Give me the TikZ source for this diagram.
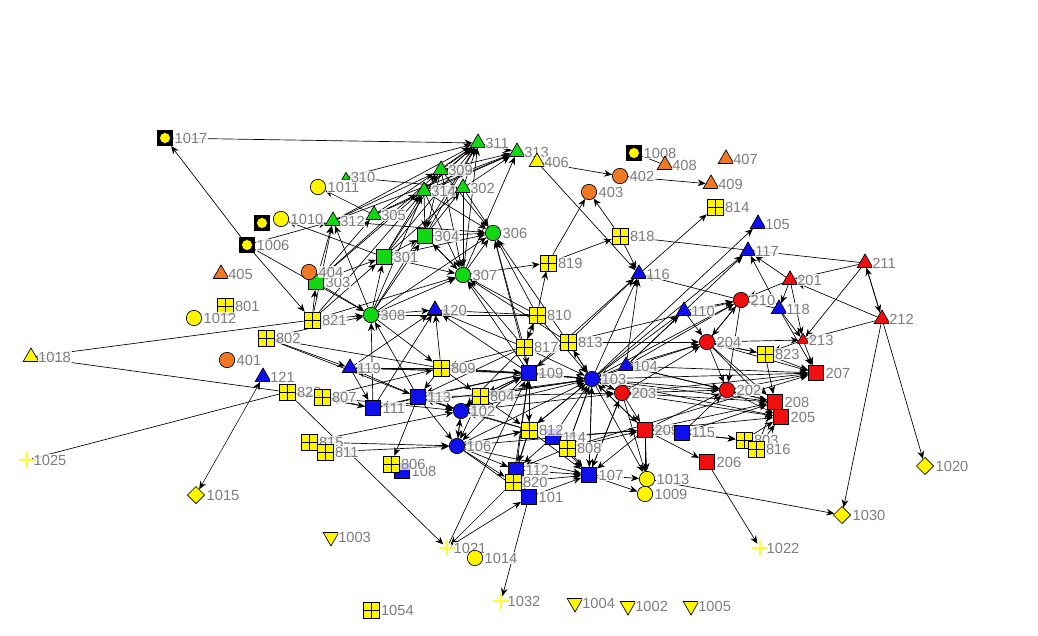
\documentclass[tikz,border=0pt]{standalone}
\usepackage{fontspec}
\setmainfont{Liberation Sans}
\usetikzlibrary{shapes.geometric,arrows.meta}
\definecolor{gnode}{RGB}{20,215,20}
\definecolor{bnode}{RGB}{15,15,235}
\definecolor{rnode}{RGB}{240,15,15}
\definecolor{ynode}{RGB}{255,245,0}
\definecolor{onode}{RGB}{240,120,35}
\definecolor{labgray}{RGB}{125,125,125}
\pgfdeclarelayer{bg}
\pgfsetlayers{bg,main}

\tikzset{every picture/.style={line width=0.55pt}}
\tikzset{
  nd/.style={draw=black,line width=0.5pt,inner sep=0pt},
  tri/.style={nd,regular polygon,regular polygon sides=3,minimum size=13.5pt},
  smtri/.style={tri,minimum size=7pt},
  itri/.style={tri,fill=ynode,shape border rotate=180},
  sq/.style={nd,rectangle,minimum size=11.5pt},
  circ/.style={nd,circle,minimum size=11.5pt},
  grid/.style={nd,rectangle,fill=ynode,minimum size=12pt,
    path picture={\draw[line width=0.5pt] (path picture bounding box.north) -- (path picture bounding box.south)
      (path picture bounding box.west) -- (path picture bounding box.east);}},
  dia/.style={nd,diamond,fill=ynode,minimum size=13pt},
  fcirc/.style={rectangle,fill=black,minimum size=11.5pt,inner sep=0pt,
    path picture={\filldraw[fill=ynode,draw=black,line width=0.4pt] (path picture bounding box.center) circle (4.1pt);}},
  spark/.style={circle,fill=ynode!15,minimum size=7pt,inner sep=0pt},
  spk/.style={draw=ynode!75,line width=0.8pt},
  arr/.style={-{Stealth[length=6pt,width=5pt]},line width=0.5pt},
  ln/.style={line width=0.5pt},
  every label/.style={text=labgray,fill=white,fill opacity=0.8,text opacity=1,inner sep=0.5pt,
    font=\fontsize{11}{12}\selectfont}
}

\begin{document}
\begin{tikzpicture}[x=0.75pt,y=0.75pt,yscale=-1,xscale=1,label distance=0.5pt]
\useasboundingbox (0,0) rectangle (1038,635);

%Shape: yellow nodes, left
\node[fcirc,label=right:1017] (n1017) at (165,138) {};
\node[fcirc] (nfc) at (262,223) {};
\node[fcirc,label=right:1006] (n1006) at (247,245) {};
\node[circ,fill=ynode,label=right:1010] (n1010) at (281,219) {};
\node[circ,fill=ynode,label=right:1011] (n1011) at (318,187) {};
\node[grid,label=right:801] (n801) at (225,306) {};
\node[circ,fill=ynode,label=right:1012] (n1012) at (194,318) {};
\node[tri,fill=ynode,label=right:1018] (n1018) at (31,357) {};
\node[spark,label=right:1025] (n1025) at (27,460) {};
\node[dia,label=right:1015] (n1015) at (196,495) {};
\node[itri,label=right:1003] (n1003) at (331,537) {};
\node[grid,label=right:1054] (n1054) at (371,610) {};

%Shape: orange nodes
\node[tri,fill=onode,label=right:405] (n405) at (221,274) {};
\node[circ,fill=onode,label=right:401] (n401) at (227,360) {};

%Shape: green nodes
\node[smtri,fill=gnode,label=right:310] (n310) at (346,177) {};
\node[tri,fill=gnode,label=right:311] (n311) at (478,143) {};
\node[tri,fill=gnode,label=right:312] (n312) at (333,221) {};
\node[tri,fill=gnode,label=right:313] (n313) at (517,152) {};
\node[tri,fill=ynode,label=right:406] (n406) at (537,162) {};
\node[tri,fill=gnode,label=right:309] (n309) at (441,170) {};
\node[tri,fill=gnode,label=right:314] (n314) at (424,191) {};
\node[tri,fill=gnode,label=right:302] (n302) at (463,188) {};
\node[tri,fill=gnode,label=right:305] (n305) at (374,215) {};
\node[sq,fill=gnode,label=right:301] (n301) at (384,257) {};
\node[sq,fill=gnode,label=right:303] (n303) at (316,282) {};
\node[circ,fill=onode,label=right:404] (n404) at (309,272) {};
\node[sq,fill=gnode,label=right:304] (n304) at (425,236) {};
\node[circ,fill=gnode,label=right:306] (n306) at (493,233) {};
\node[circ,fill=gnode,label=right:307] (n307) at (463,275) {};
\node[circ,fill=gnode,label=right:308] (n308) at (371,315) {};

%Shape: orange and yellow, top
\node[circ,fill=onode,label=right:403] (n403) at (589,192) {};
\node[circ,fill=onode,label=right:402] (n402) at (620,176) {};
\node[fcirc,label=right:1008] (n1008) at (634,153) {};
\node[tri,fill=onode,label=right:408] (n408) at (665,165) {};
\node[tri,fill=onode,label=right:407] (n407) at (726,159) {};
\node[tri,fill=onode,label=right:409] (n409) at (711,184) {};

%Shape: grid nodes
\node[grid,label=right:821] (n821) at (312,320) {};
\node[grid,label=right:802] (n802) at (266,338) {};
\node[grid,label=right:822] (n822) at (287,392) {};
\node[grid,label=right:807] (n807) at (322,397) {};
\node[grid,label=right:815] (n815) at (309,442) {};
\node[grid,label=right:811] (n811) at (325,452) {};
\node[sq,fill=bnode,label=right:108] (n108) at (402,471) {};
\node[grid,label=right:806] (n806) at (391,464) {};
\node[grid,label=right:809] (n809) at (441,368) {};
\node[grid,label=right:819] (n819) at (548,263) {};
\node[grid,label=right:818] (n818) at (620,236) {};
\node[grid,label=right:814] (n814) at (715,207) {};
\node[grid,label=right:810] (n810) at (537,315) {};
\node[grid,label=right:817] (n817) at (524,347) {};
\node[grid,label=right:813] (n813) at (568,342) {};
\node[grid,label=right:804] (n804) at (480,396) {};

%Shape: blue nodes
\node[tri,fill=bnode,label=right:121] (n121) at (263,377) {};
\node[tri,fill=bnode,label=right:119] (n119) at (350,368) {};
\node[tri,fill=bnode,label=right:120] (n120) at (435,310) {};
\node[sq,fill=bnode,label=right:111] (n111) at (373,408) {};
\node[sq,fill=bnode,label=right:113] (n113) at (418,397) {};
\node[circ,fill=bnode,label=right:102] (n102) at (461,411) {};
\node[circ,fill=bnode,label=right:106] (n106) at (457,446) {};
\node[sq,fill=bnode,label=right:109] (n109) at (529,373) {};
\node[circ,fill=bnode,label=right:103] (n103) at (592,379) {};
\node[tri,fill=bnode,label=right:104] (n104) at (626,366) {};
\node[sq,fill=bnode,label=right:114] (n114) at (553,437) {};
\node[grid,label=right:812] (n812) at (529,430) {};
\node[grid,label=right:808] (n808) at (567,448) {};
\node[sq,fill=bnode,label=right:112] (n112) at (516,470) {};
\node[grid,label=right:820] (n820) at (513,482) {};
\node[sq,fill=bnode,label=right:101] (n101) at (529,497) {};
\node[sq,fill=bnode,label=right:107] (n107) at (589,475) {};
\node[tri,fill=bnode,label=right:116] (n116) at (639,274) {};
\node[tri,fill=bnode,label=right:110] (n110) at (684,311) {};
\node[tri,fill=bnode,label=right:117] (n117) at (748,251) {};
\node[tri,fill=bnode,label=right:105] (n105) at (758,224) {};
\node[tri,fill=bnode,label=right:118] (n118) at (779,309) {};

%Shape: red nodes
\node[circ,fill=rnode,label=right:203] (n203) at (622,393) {};
\node[sq,fill=rnode,label=right:209] (n209) at (645,430) {};
\node[sq,fill=bnode,label=right:115] (n115) at (682,433) {};
\node[sq,fill=rnode,label=right:206] (n206) at (707,462) {};
\node[circ,fill=rnode,label=right:204] (n204) at (707,342) {};
\node[circ,fill=rnode,label=right:210] (n210) at (741,300) {};
\node[circ,fill=rnode,label=right:202] (n202) at (727,390) {};
\node[grid,label=right:823] (n823) at (765,354) {};
\node[sq,fill=rnode,label=right:208] (n208) at (775,402) {};
\node[sq,fill=rnode,label=right:205] (n205) at (781,417) {};
\node[sq,fill=rnode,label=right:207] (n207) at (816,373) {};
\node[grid,label=right:803] (n803) at (744,440) {};
\node[grid,label=right:816] (n816) at (756,449) {};
\node[tri,fill=rnode,label=right:201] (n201) at (790,280) {};
\node[tri,fill=rnode,minimum size=10pt,label=right:213] (n213) at (803,340) {};
\node[tri,fill=rnode,label=right:211] (n211) at (865,263) {};
\node[tri,fill=rnode,label=right:212] (n212) at (882,319) {};

%Shape: yellow nodes, bottom and right
\node[circ,fill=ynode,label=right:1013] (n1013) at (647,479) {};
\node[circ,fill=ynode,label=right:1009] (n1009) at (645,494) {};
\node[spark,label=right:1021] (n1021) at (447,548) {};
\node[circ,fill=ynode,label=right:1014] (n1014) at (475,558) {};
\node[spark,label=right:1032] (n1032) at (501,601) {};
\node[itri,label=right:1004] (n1004) at (575,603) {};
\node[itri,label=right:1002] (n1002) at (628,606) {};
\node[itri,label=right:1005] (n1005) at (691,606) {};
\node[spark,label=right:1022] (n1022) at (760,548) {};
\node[dia,label=right:1030] (n1030) at (842,515) {};
\node[dia,label=right:1020] (n1020) at (925,466) {};

\foreach \s in {n1021,n1022,n1025,n1032}
  \draw[spk] ([xshift=-6pt]\s.center) -- ([xshift=6pt]\s.center) ([yshift=-6pt]\s.center) -- ([yshift=6pt]\s.center);

\begin{pgfonlayer}{bg}
%Straight Lines, green group
\draw[arr] (n310) edge (n311) edge (n302);
\draw[arr] (n312) edge (n311) edge (n309) edge (n313) edge (n306);
\draw[arr] (n305) edge (n311) edge (n313) edge (n314) edge (n1011);
\draw[arr] (n314) edge (n311) edge (n313) edge (n304) edge (n306) edge (n307);
\draw[arr] (n309) edge (n311) edge (n313) edge (n304) edge (n306) edge (n307);
\draw[arr] (n302) edge (n311) edge (n313) edge (n306) edge (n307);
\draw[arr] (n301) edge (n311) edge (n309) edge (n314) edge (n302) edge (n307) edge (n306) edge (n1010) edge (n304);
\draw[arr] (n303) edge (n311) edge (n312) edge (n301) edge (n308) edge (n309) edge (n305);
\draw[arr] (n304) edge (n311) edge (n306) edge (n307) edge (n302);
\draw[arr] (n307) edge (n306) edge (n311) edge (n819) edge (n304) edge (n313);
\draw[arr] (n308) edge (n312) edge (n301) edge (n304) edge (n307) edge (n306) edge (n809) edge (n120) edge (n314) edge (n311);
\draw[arr] (n311) edge (n313);
\draw[arr] (n406) edge (n116) edge (n402);
\draw[arr] (n1006) edge (n1017) edge (n821) edge (n308) edge (n312);
\draw[arr] (n1017) -- (n311);
\draw[arr] (n821) edge (n301) edge (n308) edge (n312) edge (n303) edge (n314) edge (n307);

%Straight Lines, left
\draw[ln] (n1018) edge (n821) edge (n822);
\draw[ln] (n1025) -- (n822);
\draw[{Stealth[length=6pt,width=5pt]}-{Stealth[length=6pt,width=5pt]}] (n121) -- (n1015);
\draw[arr] (n802) edge (n308) edge (n113) edge (n119);
\draw[arr] (n809) edge (n802) edge (n113) edge (n804) edge (n109) edge (n120) edge (n119) edge (n103);
\draw[arr] (n119) edge (n120) edge (n111) edge (n109);
\draw[arr] (n113) edge (n119) edge (n111) edge (n102) edge (n106) edge (n806) edge (n308) edge (n203);
\draw[arr] (n111) edge (n807) edge (n120) edge (n308) edge (n103);
\draw[arr] (n822) edge (n1021) edge (n807) edge (n111);
\draw[arr] (n815) edge (n106) edge (n102);
\draw[arr] (n811) edge (n106);
\draw[arr] (n807) edge (n809) edge (n102);

%Straight Lines, centre
\draw[arr] (n1021) edge (n101) edge (n109);
\draw[arr] (n820) edge (n1021) edge (n107) edge (n109);
\draw[arr] (n101) edge (n1032) edge (n107);
\draw[arr] (n112) edge (n107) edge (n101) edge (n820) edge (n109);
\draw[arr] (n106) edge (n112) edge (n107) edge (n820) edge (n103) edge (n812) edge (n101) edge (n102) edge (n209);
\draw[arr] (n102) edge (n113) edge (n106) edge (n109) edge (n103) edge (n804) edge (n203);
\draw[arr] (n804) edge (n103) edge (n812) edge (n109) edge (n106);
\draw[arr] (n812) edge (n113) edge (n106) edge (n102) edge (n103) edge (n107) edge (n820) edge (n112) edge (n109);
\draw[arr] (n808) edge (n107) edge (n103) edge (n209) edge (n112) edge (n207);
\draw[arr] (n114) edge (n107) edge (n103) edge (n209) edge (n112);
\draw[arr] (n109) edge (n103) edge (n812) edge (n106) edge (n804) edge (n120) edge (n307) edge (n116) edge (n102) edge (n113) edge (n306) edge (n111) edge (n119);
\draw[arr] (n817) edge (n109) edge (n810) edge (n306) edge (n307) edge (n120) edge (n809) edge (n103) edge (n102) edge (n113);
\draw[arr] (n810) edge (n306) edge (n307) edge (n120) edge (n819) edge (n103) edge (n817) edge (n308);
\draw[arr] (n813) edge (n103) edge (n109) edge (n116) edge (n307) edge (n210) edge (n204) edge (n306);
\draw[arr] (n819) edge (n403) edge (n818);
\draw[arr] (n818) edge (n116) edge (n403);
\draw[ln] (n818) -- (n211);
\draw[arr] (n116) -- (n814);
\draw[arr] (n103) edge (n116) edge (n117) edge (n105) edge (n110) edge (n210) edge (n204) edge (n202) edge (n207) edge (n208) edge (n203) edge (n209) edge (n107) edge (n1013) edge (n109) edge (n812) edge (n808) edge (n804) edge (n205) edge (n813);
\draw[arr] (n104) edge (n210) edge (n110) edge (n204) edge (n207) edge (n117) edge (n202) edge (n103) edge (n116) edge (n208);
\draw[arr] (n203) edge (n202) edge (n209) edge (n208) edge (n205) edge (n207) edge (n103) edge (n1013) edge (n204) edge (n107);
\draw[arr] (n107) edge (n1009) edge (n1013) edge (n203) edge (n103);
\draw[arr] (n209) edge (n206) edge (n202) edge (n208) edge (n205) edge (n803) edge (n107) edge (n1009) edge (n1013) edge (n103);

%Straight Lines, right
\draw[arr] (n1013) -- (n1030);
\draw[arr] (n115) edge (n803) edge (n208) edge (n202) edge (n209);
\draw[arr] (n206) -- (n1022);
\draw[arr] (n204) edge (n210) edge (n213) edge (n823) edge (n207) edge (n202) edge (n208) edge (n205);
\draw[arr] (n210) edge (n116) edge (n202) edge (n204);
\draw[arr] (n110) edge (n210) edge (n204);
\draw[arr] (n118) edge (n213) edge (n207) edge (n210) edge (n117);
\draw[arr] (n201) edge (n213) edge (n118) edge (n210) edge (n117);
\draw[arr] (n211) edge (n212) edge (n213) edge (n201);
\draw[arr] (n212) edge (n211) edge (n213) edge (n1030) edge (n1020) edge (n201);
\draw[arr] (n213) edge (n207) edge (n823);
\draw[arr] (n823) edge (n207) edge (n208) edge (n204);
\draw[arr] (n202) edge (n207) edge (n208) edge (n205);
\draw[arr] (n816) edge (n208) edge (n205);
\draw[arr] (n803) -- (n205);
\draw[ln] (n1008) -- (n408);
\draw[arr] (n402) -- (n409);
\end{pgfonlayer}

\end{tikzpicture}
\end{document}
